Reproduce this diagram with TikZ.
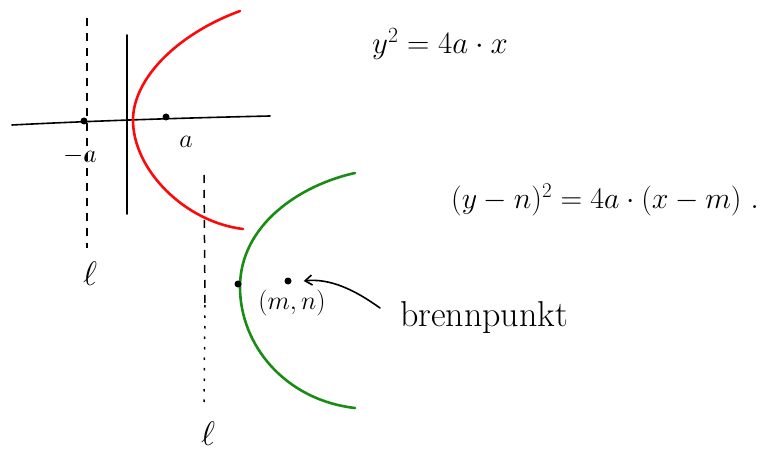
\RequirePackage{fix-cm}
\documentclass[tikz,border=0pt]{standalone}
\usetikzlibrary{arrows.meta}
\definecolor{penred}{RGB}{250,10,10}
\definecolor{pengreen}{RGB}{25,140,20}
\begin{document}
\begin{tikzpicture}[x=1pt,y=-1pt,
  pen/.style={line width=1.6pt,line cap=round,line join=round},
  curve/.style={line width=2.6pt,line cap=round},
  dashline/.style={line width=1.5pt,dash pattern=on 8pt off 7pt},
  dotline/.style={line width=1.5pt,dash pattern=on 2.5pt off 8pt},
  dotmark/.style={circle,fill=black,inner sep=0pt,minimum size=7pt},
  lbl/.style={font=\fontsize{26}{30}\selectfont,inner sep=0pt},
  ell/.style={font=\fontsize{34}{38}\selectfont,inner sep=0pt},
  eq/.style={font=\fontsize{31}{36}\selectfont,inner sep=0pt}]
\useasboundingbox (0,0) rectangle (771,457);
% axes
\coordinate (xl) at (12,125);
\coordinate (xr) at (270,116);
\coordinate (yt) at (127,35);
\coordinate (yb) at (127,214);
\draw[pen] (xl) .. controls (90,121) and (180,118) .. (xr);
\draw[pen] (yt) -- (yb);
% directrix 1
\coordinate (d1t) at (87,18);
\coordinate (d1b) at (87,248);
\draw[dashline] (d1t) -- (d1b);
\node[ell] (l1) at (90,274) {$\ell$};
% points -a and a
\node[dotmark] (ma) at (84,121) {};
\node[dotmark] (pa) at (166,117) {};
\node[lbl] (malbl) at (80,156) {$-a$};
\node[lbl] (palbl) at (186,142) {$a$};
% red parabola
\coordinate (rv) at (133,120);
\coordinate (rt) at (240,11);
\coordinate (rb) at (243,229);
\draw[curve,penred] (rt) .. controls (175,35) and (133,80) .. (rv)
                         .. controls (133,170) and (185,222) .. (rb);
% directrix 2
\coordinate (d2t) at (204,175);
\coordinate (d2m) at (205,305);
\coordinate (d2b) at (204,408);
\draw[dashline] (d2t) -- (d2m);
\draw[dotline] (d2m) -- (d2b);
\node[ell] (l2) at (208,434) {$\ell$};
% green parabola
\coordinate (gv) at (240,287);
\coordinate (gt) at (355,173);
\coordinate (gb) at (355,408);
\draw[curve,pengreen] (gt) .. controls (300,185) and (240,225) .. (gv)
                           .. controls (240,345) and (285,400) .. (gb);
\node[dotmark] (vx) at (238,284) {};
\node[dotmark] (focus) at (288,281) {};
\node[lbl] (mn) at (292,303) {$(m,n)$};
% arrow to focus
\coordinate (astart) at (380,308);
\draw[pen,-{Straight Barb[length=7pt,width=10pt]}] (astart) .. controls (355,290) and (330,278) .. ([xshift=12pt]focus.east);
\node[lbl,font=\fontsize{36}{40}\selectfont] (bp) at (484,318) {brennpunkt};
% equations
\node[eq] (eq1) at (440,44) {$y^2 = 4a\cdot x$};
\node[eq,font=\fontsize{30}{34}\selectfont] (eq2) at (605,200) {$(y-n)^2 = 4a\cdot(x-m)\ .$};
\end{tikzpicture}
\end{document}
